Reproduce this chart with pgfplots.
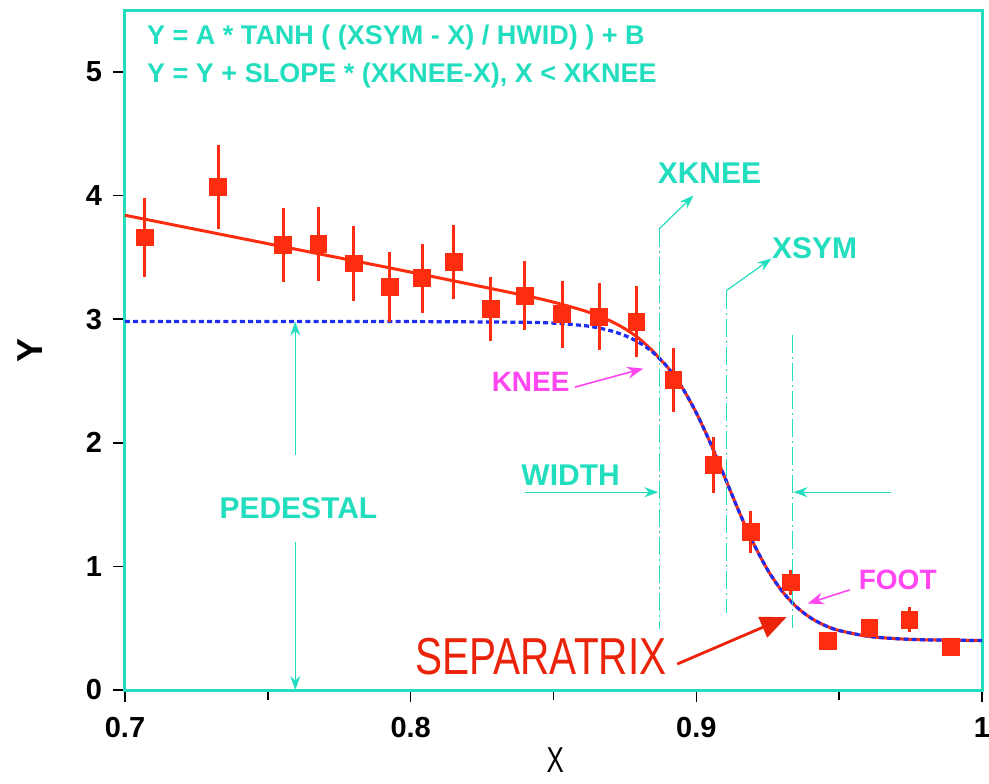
\documentclass[border=0pt]{standalone}
\usepackage{fontspec}
\setmainfont{Liberation Sans}
\usepackage{graphicx}
\usepackage{pgfplots}
\pgfplotsset{compat=1.18}
\usetikzlibrary{arrows.meta}
\definecolor{ann}{RGB}{34,222,190}
\definecolor{redpt}{RGB}{255,45,15}
\definecolor{redsep}{RGB}{235,35,10}
\definecolor{bluefit}{RGB}{30,45,240}
\definecolor{mag}{RGB}{255,70,240}

\pgfplotstableread{
x      y     e
0.707  3.66  0.32
0.7326 4.07  0.34
0.7554 3.60  0.30
0.7677 3.61  0.30
0.780  3.45  0.30
0.7926 3.26  0.28
0.804  3.33  0.28
0.815  3.46  0.30
0.828  3.08  0.26
0.840  3.19  0.28
0.853  3.04  0.27
0.866  3.02  0.27
0.879  2.98  0.29
0.892  2.51  0.26
0.906  1.82  0.23
0.919  1.28  0.17
0.933  0.87  0.10
0.946  0.40  0.00
0.9606 0.50  0.02
0.9746 0.57  0.10
0.989  0.35  0.00
}\datapts

% fitted profile
\pgfplotstableread{
x     y
0.700 2.980
0.750 2.980
0.800 2.980
0.840 2.974
0.850 2.967
0.860 2.949
0.865 2.932
0.870 2.906
0.875 2.867
0.880 2.810
0.885 2.727
0.890 2.609
0.895 2.448
0.900 2.241
0.905 1.993
0.910 1.718
0.915 1.440
0.920 1.186
0.925 0.970
0.930 0.800
0.935 0.673
0.940 0.584
0.945 0.522
0.950 0.481
0.960 0.435
0.970 0.415
0.980 0.406
0.990 0.403
1.000 0.400
}\tanhfit

\pgfplotstableread{
x     y
0.700 3.840
0.750 3.610
0.800 3.380
0.840 3.190
0.850 3.137
0.860 3.073
0.865 3.033
0.870 2.984
0.875 2.922
0.880 2.842
0.885 2.736
0.887 2.683
0.890 2.609
0.895 2.448
0.900 2.241
0.905 1.993
0.910 1.718
0.915 1.440
0.920 1.186
0.925 0.970
0.930 0.800
0.935 0.673
0.940 0.584
0.945 0.522
0.950 0.481
0.960 0.435
0.970 0.415
0.980 0.406
0.990 0.403
1.000 0.400
}\fullfit

\begin{document}
\begin{tikzpicture}
\useasboundingbox (-62.5pt,-46.5pt) rectangle (432pt,345pt);
\begin{axis}[
    at={(0,0)}, anchor=south west,
    scale only axis, width=428.5pt, height=340pt,
    xmin=0.7, xmax=1.0, ymin=0, ymax=5.5,
    xtick={0.7,0.8,0.9,1}, minor xtick={0.75,0.85,0.95},
    ytick={0,1,2,3,4,5},
    xtick pos=bottom, ytick pos=left,
    tick align=outside, major tick length=6pt, minor tick length=5pt,
    tick style={black, line width=0.8pt},
    axis line style={ann, line width=1.5pt},
    /pgf/number format/assume math mode=true,
    xticklabel style={font=\fontsize{14.5}{14.5}\selectfont\bfseries, yshift=-4pt},
    yticklabel style={font=\fontsize{14.5}{14.5}\selectfont\bfseries, xshift=-2pt},
    xlabel={\scalebox{0.72}[1]{X}},
    xlabel style={font=\fontsize{18}{18}\selectfont, at={(axis description cs:0.502,-0.103)}, anchor=center},
    ylabel={Y},
    ylabel style={font=\fontsize{18}{18}\selectfont\bfseries, at={(axis description cs:-0.111,0.5)}, anchor=center},
    clip=false,
]
\addplot[redpt, line width=1.5pt, smooth] table[x=x,y=y] {\fullfit};
\addplot[bluefit, line width=1.6pt, dash pattern=on 2.5pt off 1.6pt, smooth] table[x=x,y=y] {\tanhfit};
\addplot[only marks, mark=square*, mark size=4.2pt, color=redpt,
    error bars/.cd, y dir=both, y explicit, error mark=none,
    error bar style={line width=1.5pt, redpt}]
    table[x=x,y=y,y error=e] {\datapts};

% annotations
\begin{scope}[font=\fontsize{13.5}{13.5}\selectfont\bfseries, ann]
\node[anchor=west] at (axis cs:0.7053,5.275) {Y = A * TANH ( (XSYM - X) / HWID) ) + B};
\node[anchor=west] at (axis cs:0.7053,4.97) {Y = Y + SLOPE * (XKNEE-X), X < XKNEE};
\end{scope}

\begin{scope}[ann, line width=0.6pt, dash pattern=on 9pt off 2pt on 1pt off 2pt]
\draw (axis cs:0.887,3.73) -- (axis cs:0.887,0.49);
\draw (axis cs:0.9105,3.23) -- (axis cs:0.9105,0.62);
\draw (axis cs:0.9337,2.87) -- (axis cs:0.9337,0.50);
\end{scope}

\begin{scope}[ann, line width=0.6pt, -{Stealth[length=7pt,width=5pt]}]
\draw (axis cs:0.887,3.73) -- (axis cs:0.899,4.0);
\draw (axis cs:0.9105,3.23) -- (axis cs:0.9263,3.49);
\draw (axis cs:0.840,1.60) -- (axis cs:0.8867,1.60);
\draw (axis cs:0.968,1.60) -- (axis cs:0.934,1.60);
\draw (axis cs:0.7596,1.90) -- (axis cs:0.7596,2.98);
\draw (axis cs:0.7596,1.20) -- (axis cs:0.7596,0);
\end{scope}

\begin{scope}[ann, font=\fontsize{15}{15}\selectfont\bfseries]
\node at (axis cs:0.9046,4.18) {XKNEE};
\node at (axis cs:0.9414,3.57) {XSYM};
\node at (axis cs:0.856,1.74) {WIDTH};
\node at (axis cs:0.7607,1.47) {PEDESTAL};
\end{scope}

\begin{scope}[mag, font=\fontsize{14}{14}\selectfont\bfseries]
\node at (axis cs:0.842,2.49) {KNEE};
\node at (axis cs:0.9705,0.89) {FOOT};
\draw[line width=0.8pt, -{Stealth[length=8pt,width=6pt]}] (axis cs:0.8575,2.45) -- (axis cs:0.8814,2.60);
\draw[line width=0.8pt, -{Stealth[length=8pt,width=6pt]}] (axis cs:0.9537,0.81) -- (axis cs:0.939,0.70);
\end{scope}

\node[redsep, font=\fontsize{26}{26}\selectfont] at (axis cs:0.8456,0.27) {\scalebox{0.78}[1]{SEPARATRIX}};
\draw[redsep, line width=1.4pt, -{Triangle[length=13pt,width=11pt]}] (axis cs:0.8933,0.21) -- (axis cs:0.9316,0.59);
\end{axis}
\end{tikzpicture}
\end{document}
